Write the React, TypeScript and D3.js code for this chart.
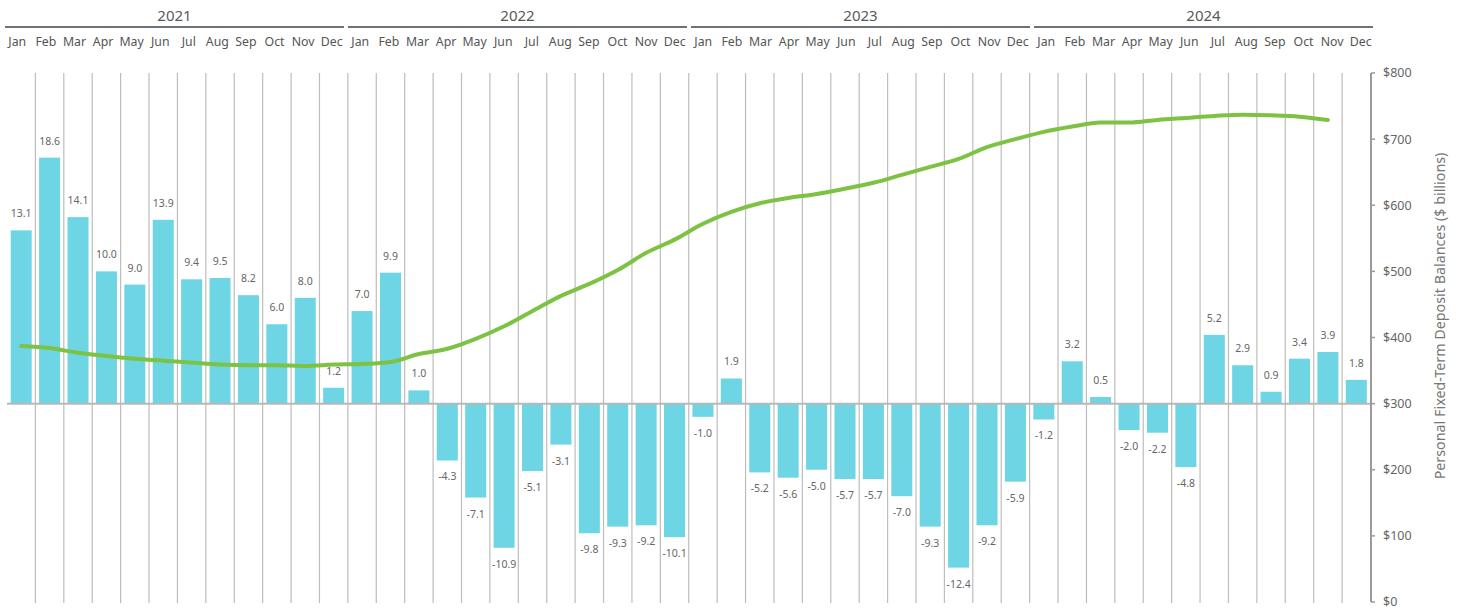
import React from 'react';
import * as d3 from 'd3';

const years = ['2021', '2022', '2023', '2024'];
const monthNames = ['Jan', 'Feb', 'Mar', 'Apr', 'May', 'Jun', 'Jul', 'Aug', 'Sep', 'Oct', 'Nov', 'Dec'];

// monthly change in balances ($ billions)
const monthlyChange = [
  13.1, 18.6, 14.1, 10.0, 9.0, 13.9, 9.4, 9.5, 8.2, 6.0, 8.0, 1.2,
  7.0, 9.9, 1.0, -4.3, -7.1, -10.9, -5.1, -3.1, -9.8, -9.3, -9.2, -10.1,
  -1.0, 1.9, -5.2, -5.6, -5.0, -5.7, -5.7, -7.0, -9.3, -12.4, -9.2, -5.9,
  -1.2, 3.2, 0.5, -2.0, -2.2, -4.8, 5.2, 2.9, 0.9, 3.4, 3.9, 1.8,
];

// outstanding balance ($ billions), no value for Dec 2024
const balance = [
  387, 384, 377, 372, 368, 365, 362, 359, 358, 358, 357, 359,
  360, 363, 375, 383, 398, 417, 440, 463, 481, 502, 528, 548,
  572, 590, 603, 611, 617, 625, 634, 646, 658, 670, 688, 700,
  711, 719, 725, 725, 729, 732, 735, 737, 736, 734, 729, null,
];

const rightTicks = [0, 100, 200, 300, 400, 500, 600, 700, 800];

const W = 1461;
const H = 610;
const FONT = '"Noto Sans", "Open Sans", sans-serif';

const App = () => {
  const months = years.flatMap((yr) => monthNames.map((m) => `${m} ${yr}`));

  const x = d3.scaleBand<string>().domain(months).range([7, 1370.5]).paddingInner(0.26).paddingOuter(0.13);
  const step = x.step();
  const left = 7;

  // the header row is laid out a little wider than the plot
  const xHead = d3.scaleBand<string>().domain(months).range([3, 1375]);
  const yearStep = xHead.step() * 12;

  const y = d3.scaleLinear().domain([0, 800]).range([602, 73]);
  // bars share the frame: zero sits on $300, 1 unit = $20B
  const yBar = d3.scaleLinear().domain([-15, 25]).range([602, 73]);

  const line = d3
    .line<number | null>()
    .defined((d) => d != null)
    .x((_, i) => (x(months[i]) as number) + x.bandwidth() / 2)
    .y((d) => y(d as number))
    .curve(d3.curveMonotoneX);

  const zeroY = yBar(0);

  return (
    <svg
      width={W}
      height={H}
      style={{ position: 'absolute', left: 0, top: 0, background: '#fff', fontFamily: FONT }}
    >
      {/* year headers */}
      {years.map((yr, i) => {
        const x0 = 3 + i * yearStep;
        const x1 = x0 + yearStep;
        return (
          <g key={yr}>
            <line x1={x0 + 2} x2={x1 - 2} y1={27} y2={27} stroke="#6b7378" strokeWidth={2} />
            <text x={(x0 + x1) / 2} y={21} textAnchor="middle" fontSize={15} fill="#5a5a5a">
              {yr}
            </text>
          </g>
        );
      })}

      {/* month labels */}
      {months.map((m) => (
        <text
          key={m}
          x={(xHead(m) as number) + xHead.bandwidth() / 2}
          y={46}
          textAnchor="middle"
          fontSize={12.3}
          fill="#555"
        >
          {m.split(' ')[0]}
        </text>
      ))}

      {/* vertical separators */}
      {months.slice(1).map((m, i) => {
        const gx = left + (i + 1) * step;
        return <line key={m} x1={gx} x2={gx} y1={73} y2={603} stroke="#bdbdbd" strokeWidth={1.2} />;
      })}

      {/* bars */}
      {monthlyChange.map((v, i) => {
        const bx = x(months[i]) as number;
        const top = Math.min(yBar(v), zeroY);
        const h = Math.abs(yBar(v) - zeroY);
        return (
          <g key={months[i]}>
            <rect x={bx} y={top} width={x.bandwidth()} height={h} fill="#6dd5e3" />
            <text
              x={bx + x.bandwidth() / 2}
              y={v >= 0 ? yBar(v) - 13 : yBar(v) + 20}
              textAnchor="middle"
              fontSize={10.5}
              fill="#666"
            >
              {v.toFixed(1)}
            </text>
          </g>
        );
      })}

      {/* zero line */}
      <line x1={7} x2={1371} y1={zeroY} y2={zeroY} stroke="#b8b8b8" strokeWidth={2} />

      {/* balance line */}
      <path d={line(balance) || ''} fill="none" stroke="#7dc242" strokeWidth={4} strokeLinecap="round" />

      {/* right axis */}
      <line x1={1371} x2={1371} y1={73} y2={602} stroke="#9a9a9a" strokeWidth={2} />
      {rightTicks.map((t) => (
        <g key={t} transform={`translate(1371,${y(t)})`}>
          <line x1={0} x2={4} stroke="#9a9a9a" strokeWidth={1.5} />
          <text x={12} dy="0.35em" fontSize={12.5} fill="#666">
            ${t}
          </text>
        </g>
      ))}
      <text
        transform={`translate(1445,316) rotate(-90)`}
        textAnchor="middle"
        fontSize={14.3}
        fill="#777"
      >
        Personal Fixed-Term Deposit Balances ($ billions)
      </text>
    </svg>
  );
};

export default App;
